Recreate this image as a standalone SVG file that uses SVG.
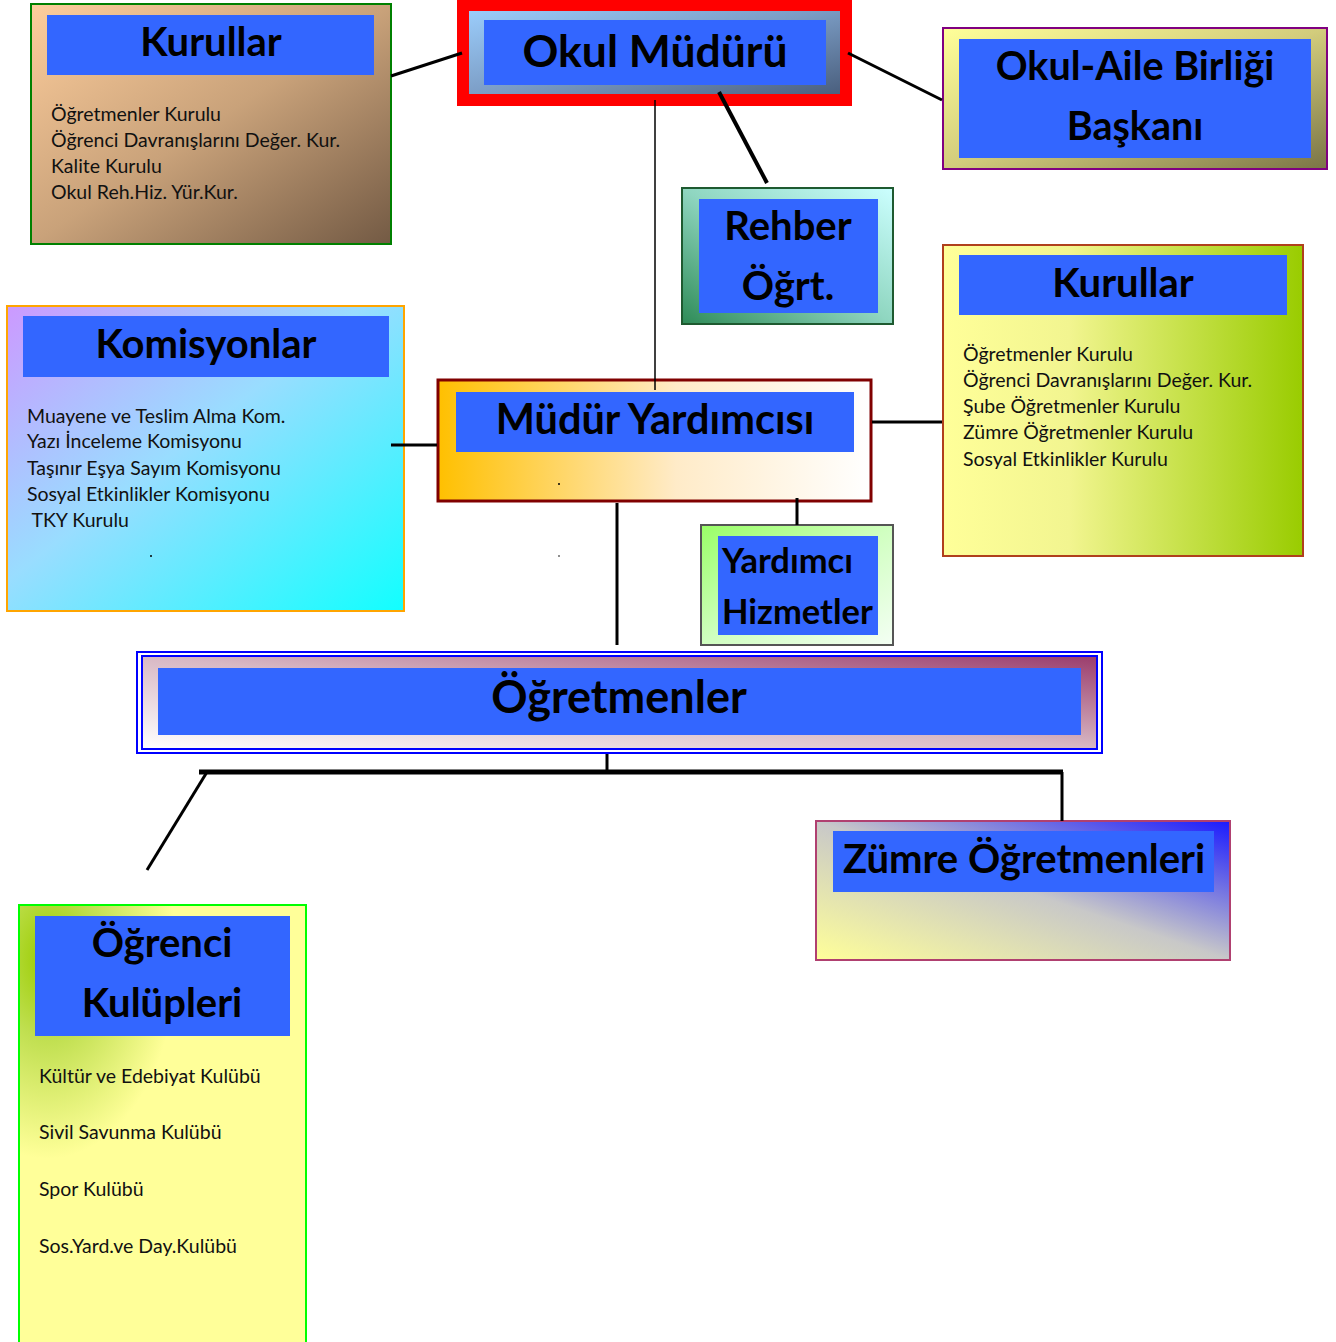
<svg xmlns="http://www.w3.org/2000/svg" width="1336" height="1342" viewBox="0 0 1336 1342">
<defs>
<linearGradient id="gKur1" x1="0" y1="0" x2="1" y2="1"><stop offset="0" stop-color="#fdcd9c"/><stop offset="0.5" stop-color="#c9a27a"/><stop offset="1" stop-color="#735a44"/></linearGradient>
<linearGradient id="gMud" x1="0" y1="0" x2="1" y2="1"><stop offset="0" stop-color="#9dd0ff"/><stop offset="0.5" stop-color="#7b9cc4"/><stop offset="1" stop-color="#465a78"/></linearGradient>
<linearGradient id="gAile" x1="0" y1="0" x2="1" y2="1"><stop offset="0" stop-color="#ffff99"/><stop offset="0.5" stop-color="#d2cc7c"/><stop offset="1" stop-color="#7a7446"/></linearGradient>
<linearGradient id="gReh" x1="0" y1="1" x2="1" y2="0"><stop offset="0" stop-color="#2e8b57"/><stop offset="0.5" stop-color="#8fd6c0"/><stop offset="1" stop-color="#ccffff"/></linearGradient>
<linearGradient id="gKur2" x1="0" y1="0" x2="1" y2="0"><stop offset="0" stop-color="#ffff99"/><stop offset="0.35" stop-color="#f2f590"/><stop offset="1" stop-color="#99cc00"/></linearGradient>
<linearGradient id="gKom" x1="0" y1="0" x2="1" y2="1"><stop offset="0" stop-color="#cc99ff"/><stop offset="0.45" stop-color="#99ddff"/><stop offset="1" stop-color="#11ffff"/></linearGradient>
<linearGradient id="gMY" x1="0" y1="0" x2="1" y2="0"><stop offset="0" stop-color="#ffc000"/><stop offset="0.55" stop-color="#ffebc8"/><stop offset="1" stop-color="#ffffff"/></linearGradient>
<linearGradient id="gYar" x1="0" y1="0" x2="1" y2="1"><stop offset="0" stop-color="#99ff66"/><stop offset="0.5" stop-color="#d0ffc0"/><stop offset="1" stop-color="#f4fff4"/></linearGradient>
<linearGradient id="gOgr" x1="0" y1="1" x2="1" y2="0"><stop offset="0" stop-color="#ffffff"/><stop offset="0.5" stop-color="#d8b8c4"/><stop offset="1" stop-color="#9a3c6c"/></linearGradient>
<linearGradient id="gZum" x1="0" y1="1" x2="1" y2="0"><stop offset="0" stop-color="#ffff99"/><stop offset="0.5" stop-color="#c8c8c8"/><stop offset="1" stop-color="#1a1aff"/></linearGradient>
<radialGradient id="gKul" cx="0.1" cy="0.12" r="0.9"><stop offset="0" stop-color="#99cc00"/><stop offset="0.2" stop-color="#c0df50"/><stop offset="0.5" stop-color="#ffff99"/><stop offset="1" stop-color="#ffff99"/></radialGradient>
</defs>
<style>
.hdr{fill:#3366ff}
.t{font-family:Lato,"Liberation Sans",sans-serif;font-weight:bold;fill:#000;font-size:40px}
.c{text-anchor:middle}
.b{font-family:Lato,"Liberation Sans",sans-serif;fill:#111;font-size:19.5px}
.ln{stroke:#000;fill:none}
</style>
<rect width="1336" height="1342" fill="#fff"/>

<g id="kurullar1">
<rect x="31" y="4" width="360" height="240" fill="url(#gKur1)" stroke="#008000" stroke-width="2"/>
<rect class="hdr" x="47" y="15" width="327" height="60"/>
<text class="t c" x="211" y="56">Kurullar</text>
<text class="b" x="51" y="121">Öğretmenler Kurulu</text>
<text class="b" x="51" y="147">Öğrenci Davranışlarını Değer. Kur.</text>
<text class="b" x="51" y="173">Kalite Kurulu</text>
<text class="b" x="51" y="199">Okul Reh.Hiz. Yür.Kur.</text>
</g>

<g id="okul-muduru">
<rect x="463" y="5" width="383" height="95" fill="url(#gMud)" stroke="#ff0000" stroke-width="12"/>
<rect class="hdr" x="484" y="20" width="342" height="65"/>
<text class="t c" x="655" y="67" style="font-size:44.5px">Okul Müdürü</text>
</g>

<g id="okul-aile">
<rect x="943" y="28" width="384" height="141" fill="url(#gAile)" stroke="#800080" stroke-width="2"/>
<rect class="hdr" x="959" y="39" width="352" height="119"/>
<text class="t c" x="1135" y="80" style="font-size:39.5px">Okul-Aile Birliği</text>
<text class="t c" x="1135" y="140" style="font-size:39.5px">Başkanı</text>
</g>

<g id="rehber">
<rect x="682" y="188" width="211" height="136" fill="url(#gReh)" stroke="#1e5a30" stroke-width="2"/>
<rect class="hdr" x="699" y="199" width="179" height="114"/>
<text class="t c" x="788" y="240">Rehber</text>
<text class="t c" x="788" y="300">Öğrt.</text>
</g>

<g id="kurullar2">
<rect x="943" y="245" width="360" height="311" fill="url(#gKur2)" stroke="#b0401c" stroke-width="2"/>
<rect class="hdr" x="959" y="255" width="328" height="60"/>
<text class="t c" x="1123" y="297">Kurullar</text>
<text class="b" x="963" y="361">Öğretmenler Kurulu</text>
<text class="b" x="963" y="387">Öğrenci Davranışlarını Değer. Kur.</text>
<text class="b" x="963" y="413">Şube Öğretmenler Kurulu</text>
<text class="b" x="963" y="439">Zümre Öğretmenler Kurulu</text>
<text class="b" x="963" y="466">Sosyal Etkinlikler Kurulu</text>
</g>

<g id="komisyonlar">
<rect x="7" y="306" width="397" height="305" fill="url(#gKom)" stroke="#ffa500" stroke-width="2"/>
<rect class="hdr" x="23" y="316" width="366" height="61"/>
<text class="t c" x="206" y="358">Komisyonlar</text>
<text class="b" x="27" y="423">Muayene ve Teslim Alma Kom.</text>
<text class="b" x="27" y="448">Yazı İnceleme Komisyonu</text>
<text class="b" x="27" y="475">Taşınır Eşya Sayım Komisyonu</text>
<text class="b" x="27" y="501">Sosyal Etkinlikler Komisyonu</text>
<text class="b" x="27" y="527" xml:space="preserve"> TKY Kurulu</text>
<circle cx="151" cy="556" r="1" fill="#000"/>
</g>

<g id="mudur-yardimcisi">
<rect x="438" y="380" width="433" height="121" fill="url(#gMY)" stroke="#800000" stroke-width="3"/>
<rect class="hdr" x="456" y="392" width="398" height="60"/>
<text class="t c" x="655" y="434" style="font-size:41.5px">Müdür Yardımcısı</text>
<circle cx="559" cy="484" r="1" fill="#000"/>
<circle cx="559" cy="556" r="0.8" fill="#000"/>
</g>

<g id="yardimci-hizmetler">
<rect x="701" y="525" width="192" height="120" fill="url(#gYar)" stroke="#555" stroke-width="2"/>
<rect class="hdr" x="718" y="536" width="160" height="99"/>
<text class="t" x="722" y="573" style="font-size:34.5px">Yardımcı</text>
<text class="t" x="722" y="624" style="font-size:34.5px">Hizmetler</text>
</g>

<g id="ogretmenler">
<rect x="137" y="652" width="965" height="101" fill="none" stroke="#0000ff" stroke-width="2"/>
<rect x="142" y="656" width="955" height="93" fill="url(#gOgr)" stroke="#0000ff" stroke-width="2"/>
<rect class="hdr" x="158" y="668" width="923" height="67"/>
<text class="t c" x="619" y="713" style="font-size:45px">Öğretmenler</text>
</g>

<g id="zumre">
<rect x="816" y="821" width="414" height="139" fill="url(#gZum)" stroke="#b04070" stroke-width="2"/>
<rect class="hdr" x="833" y="831" width="381" height="61"/>
<text class="t" x="843" y="873">Zümre Öğretmenleri</text>
</g>

<g id="ogrenci-kulupleri">
<rect x="19" y="905" width="287" height="445" fill="url(#gKul)" stroke="#00ff00" stroke-width="2"/>
<rect class="hdr" x="35" y="916" width="255" height="120"/>
<text class="t c" x="162" y="957">Öğrenci</text>
<text class="t c" x="162" y="1017">Kulüpleri</text>
<text class="b" x="39" y="1083">Kültür ve Edebiyat Kulübü</text>
<text class="b" x="39" y="1139">Sivil Savunma Kulübü</text>
<text class="b" x="39" y="1196">Spor Kulübü</text>
<text class="b" x="39" y="1253">Sos.Yard.ve Day.Kulübü</text>
</g>

<g id="connectors">
<line class="ln" x1="391" y1="76" x2="462" y2="53" stroke-width="3"/>
<line class="ln" x1="848" y1="53" x2="942" y2="100" stroke-width="3"/>
<line class="ln" x1="719" y1="92" x2="767" y2="183" stroke-width="4"/>
<line class="ln" x1="655" y1="100" x2="655" y2="390" stroke-width="1.5"/>
<line class="ln" x1="391" y1="445" x2="437" y2="445" stroke-width="3"/>
<line class="ln" x1="872" y1="422" x2="942" y2="422" stroke-width="3"/>
<line class="ln" x1="617" y1="503" x2="617" y2="645" stroke-width="3"/>
<line class="ln" x1="797" y1="498" x2="797" y2="525" stroke-width="3"/>
<line class="ln" x1="607" y1="754" x2="607" y2="772" stroke-width="3"/>
<line class="ln" x1="199" y1="772" x2="1063" y2="772" stroke-width="5"/>
<line class="ln" x1="1062" y1="772" x2="1062" y2="821" stroke-width="3"/>
<line class="ln" x1="207" y1="772" x2="147" y2="870" stroke-width="3"/>
</g>
</svg>
